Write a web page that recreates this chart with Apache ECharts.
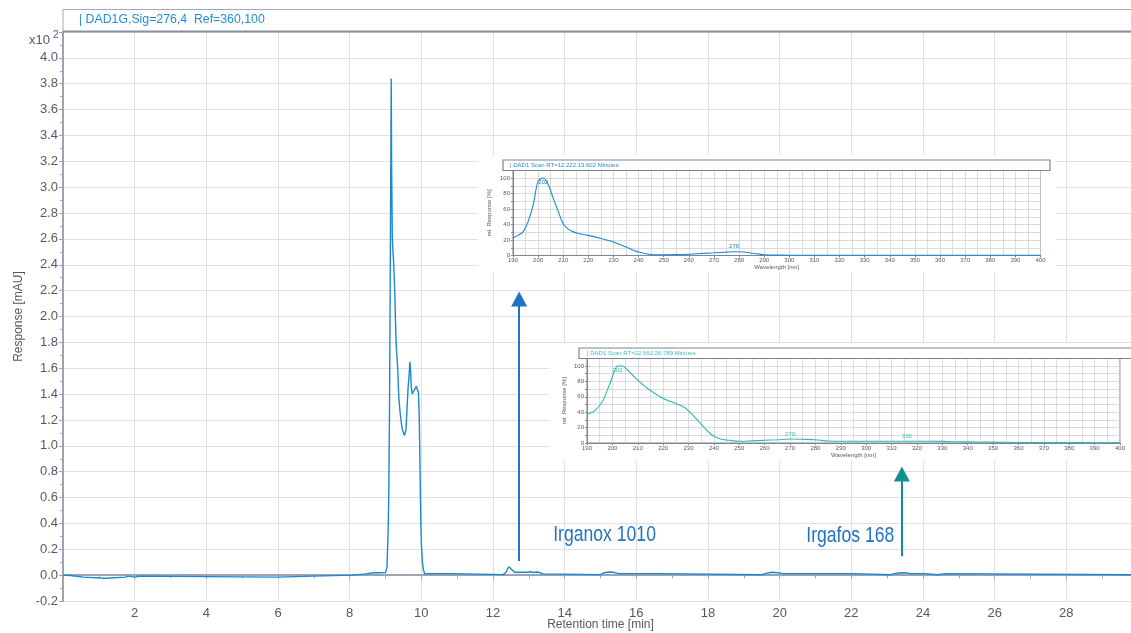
<!DOCTYPE html>
<html>
<head>
<meta charset="utf-8">
<script src="https://cdn.jsdelivr.net/npm/echarts@6/dist/echarts.min.js"></script>
<style>
html, body { margin: 0; padding: 0; background: #fff; }
#chart { width: 1131px; height: 633px; }
</style>
</head>
<body>
<div id="chart"></div>
<script>
// Chromatogram, DAD1G signal: retention time [min] vs response [x10^2 mAU]
const traceTime = [
  0, 0.2, 0.22, 0.58, 0.6, 1.18, 1.2, 1.74, 1.76, 1.8, 1.83, 2.03, 2.06, 2.1, 2.13,
  5.98, 6.0, 6.98, 7.0, 8.08, 8.1, 8.45, 8.48, 8.6, 8.63, 9.0,
  9.04, 9.07, 9.09, 9.11, 9.13, 9.15, 9.16, 9.17, 9.19, 9.23, 9.26, 9.28, 9.3, 9.34,
  9.37, 9.41, 9.46, 9.5, 9.53, 9.57, 9.6, 9.63, 9.66, 9.68, 9.7, 9.72, 9.75, 9.78,
  9.82, 9.86, 9.89, 9.92, 9.94, 9.96, 9.98, 10.0, 10.03, 10.06, 10.09,
  10.9, 10.92, 12.28, 12.36, 12.44, 12.5, 12.6, 12.95, 13.05, 13.12, 13.22, 13.3, 13.4, 13.45,
  15.0, 15.1, 15.25, 15.4, 15.5, 16.66, 16.7, 19.5, 19.65, 19.8, 19.95, 20.1,
  22.0, 22.05, 23.1, 23.2, 23.4, 23.55, 23.65, 24.05, 24.1, 24.4, 24.45, 24.62, 24.66, 30
];
const traceResp = [
  0.0, -0.003, -0.015, -0.015, -0.024, -0.024, -0.015, -0.015, -0.006, -0.008, -0.015, -0.015, -0.006, -0.008, -0.015,
  -0.015, -0.008, -0.008, 0.0, 0.0, 0.01, 0.01, 0.016, 0.016, 0.02, 0.02,
  0.06, 0.3, 0.6, 1.2, 2.2, 3.3, 3.84, 3.2, 2.6, 2.4, 2.18, 1.95, 1.77, 1.6,
  1.38, 1.25, 1.14, 1.1, 1.08, 1.12, 1.28, 1.45, 1.55, 1.65, 1.58, 1.45, 1.4, 1.42,
  1.43, 1.46, 1.45, 1.41, 1.25, 0.9, 0.5, 0.25, 0.1, 0.04, 0.012,
  0.012, 0.004, 0.004, 0.02, 0.065, 0.05, 0.022, 0.022, 0.026, 0.02, 0.024, 0.02, 0.01, 0.004,
  0.004, 0.018, 0.024, 0.02, 0.012, 0.012, 0.003, 0.003, 0.016, 0.022, 0.018, 0.012,
  0.012, 0.003, 0.003, 0.012, 0.018, 0.016, 0.012, 0.012, 0.003, 0.003, 0.012, 0.012, 0.003, 0.003
];

// UV scan, RT 12.222–13.602 min: wavelength [nm] vs rel. response [%]
const scan1Wavelength = [190, 192, 194, 196, 198, 200, 202, 204, 206, 208, 210, 212, 214, 216, 220, 225, 230, 235, 240, 245, 250, 255, 260, 265, 270, 275, 278, 282, 285, 288, 290, 295, 300, 320, 340, 360, 380, 400];
const scan1Response   = [23, 26, 30.5, 43.7, 65, 96, 100, 92, 74, 57, 41, 34, 30.5, 28.5, 26, 22, 17.5, 11, 4.4, 1.3, 0.9, 1.2, 1.7, 2.6, 3.5, 4.4, 4.8, 4.6, 3, 1.8, 0.9, 0.5, 0.4, 0.3, 0.3, 0.3, 0.3, 0.3];
const scan1Peaks = [202, 278];

// UV scan, RT 22.662–26.789 min
const scan2Wavelength = [190, 193, 196, 198, 200, 201, 202, 204, 206, 208, 210, 213, 216, 220, 225, 228, 230, 233, 236, 238, 240, 243, 246, 250, 255, 260, 265, 270, 275, 280, 285, 290, 300, 310, 316, 320, 330, 334, 340, 350, 360, 370, 380, 390, 400];
const scan2Response   = [37.4, 41.7, 53.5, 68.7, 86, 94.8, 100, 100, 94.8, 88, 81.7, 73, 66, 57.8, 51.3, 47, 41.7, 31.7, 20.9, 14, 8.7, 4.8, 3.5, 2.2, 2.8, 3.5, 4.2, 5.2, 4.8, 4.3, 2.6, 2.2, 2.2, 2.2, 2.2, 2.2, 2.1, 1.6, 1.4, 1.2, 0.7, 0.5, 0.5, 0.4, 0.3];
const scan2Peaks = [202, 270, 316];

// Compound markers: arrow from/to response, label anchor
const compoundNames = ['Irganox 1010', 'Irgafos 168'];
const arrowTime = [12.73, 23.41];
const arrowFrom = [0.11, 0.147];
const arrowTo   = [2.136, 0.783];
const compoundLabelTime = [13.68, 23.2];
const compoundLabelResp = [0.31, 0.30];

const FONT = "'Liberation Sans', Arial, sans-serif";
const AXIS = '#9ea3b4';
const TEXT = '#55595f';
const SPLIT = '#e0e0e0';
const BLUE = '#1b88d2';
const TEAL = '#2cb9b1';
const ARROW_BLUE = '#1f74c4';
const ARROW_TEAL = '#12908c';

const chart = echarts.init(document.getElementById('chart'), null, { renderer: 'canvas' });

function zip(xs, ys) { return xs.map((x, i) => [x, ys[i]]); }

// Wavelength labels at spectral maxima
function peakMarks(wl, resp, peaks, color) {
  const top = Math.max.apply(null, resp);
  return {
    silent: true, symbol: 'circle', symbolSize: 0,
    data: peaks.map(w => {
      const r = resp[wl.indexOf(w)];
      const isMax = r === top;
      return {
        coord: [w, r], value: w,
        label: {
          show: true, formatter: String(w), position: isMax ? 'bottom' : 'top',
          distance: isMax ? 1 : 2, fontSize: 6, fontFamily: FONT, color
        }
      };
    })
  };
}

function insetX(gridIndex) {
  return {
    type: 'value', gridIndex, min: 190, max: 400, interval: 10, z: 4,
    name: 'Wavelength [nm]', nameLocation: 'middle', nameGap: 8,
    nameTextStyle: { fontSize: 6, color: TEXT, fontFamily: FONT },
    axisLine: { show: true, lineStyle: { color: '#7e8396', width: 1 } },
    axisTick: { show: true, length: 2, lineStyle: { color: '#7e8396' } },
    axisLabel: { fontSize: 6, color: TEXT, margin: 2, fontFamily: FONT },
    splitLine: { show: true, lineStyle: { color: '#d2d2d2', width: 0.8 } },
    minorTick: { show: false, splitNumber: 2 },
    minorSplitLine: { show: true, lineStyle: { color: '#d2d2d2', width: 0.8 } }
  };
}
function insetY(gridIndex, gap) {
  return {
    type: 'value', gridIndex, min: 0, max: 110, interval: 10, z: 4,
    name: 'rel. Response [%]', nameLocation: 'middle', nameGap: gap,
    nameTextStyle: { fontSize: 6, color: TEXT, fontFamily: FONT },
    axisLine: { show: true, lineStyle: { color: '#7e8396', width: 1 } },
    axisTick: { show: true, length: 2, lineStyle: { color: '#7e8396' } },
    axisLabel: {
      fontSize: 6, color: TEXT, margin: 3, fontFamily: FONT, showMaxLabel: false,
      formatter: v => (v % 20 === 0 ? String(v) : '')
    },
    splitLine: { show: true, lineStyle: { color: '#d2d2d2', width: 0.8 } }
  };
}

const option = {
  animation: false,
  backgroundColor: '#fff',
  grid: [
    { left: 63, top: 32, right: -7, bottom: 32, outerBoundsMode: 'none' },
    { left: 513, top: 170.3, width: 527.5, height: 85.2, show: true, backgroundColor: '#fff', borderColor: '#7e8396', borderWidth: 1, z: 3, outerBoundsMode: 'none' },
    { left: 587, top: 358.3, width: 533, height: 84.7, show: true, backgroundColor: '#fff', borderColor: '#7e8396', borderWidth: 1, z: 3, outerBoundsMode: 'none' }
  ],
  xAxis: [
    {
      type: 'value', gridIndex: 0, min: 0, max: 30, interval: 2,
      name: 'Retention time [min]', nameLocation: 'middle', nameGap: 24, nameMoveOverlap: false,
      nameTextStyle: { fontSize: 12, color: TEXT, fontFamily: FONT, verticalAlign: 'middle', padding: 0 },
      axisLine: { show: true, lineStyle: { color: AXIS, width: 2 } },
      axisTick: { show: true, length: 4, lineStyle: { color: AXIS } },
      minorTick: { show: true, splitNumber: 2, length: 3, lineStyle: { color: AXIS } },
      axisLabel: { fontSize: 13, color: TEXT, margin: 6, fontFamily: FONT, showMinLabel: false, showMaxLabel: false },
      splitLine: { show: true, lineStyle: { color: SPLIT, width: 1 } }
    },
    insetX(1),
    insetX(2)
  ],
  yAxis: [
    {
      type: 'value', gridIndex: 0, min: -0.2, max: 4.2, interval: 0.2,
      name: 'Response [mAU]', nameLocation: 'middle', nameGap: 38, nameMoveOverlap: false,
      nameTextStyle: { fontSize: 12, color: TEXT, fontFamily: FONT },
      axisLine: { show: true, lineStyle: { color: AXIS, width: 2 } },
      axisTick: { show: true, length: 4, lineStyle: { color: AXIS } },
      minorTick: { show: true, splitNumber: 2, length: 3, lineStyle: { color: AXIS } },
      axisLabel: { fontSize: 13, color: TEXT, margin: 5, fontFamily: FONT, showMaxLabel: false, formatter: v => v.toFixed(1) },
      splitLine: { show: true, lineStyle: { color: SPLIT, width: 1 } }
    },
    insetY(1, 21),
    insetY(2, 20)
  ],
  series: [
    {
      name: 'DAD1G', type: 'line', xAxisIndex: 0, yAxisIndex: 0, z: 2,
      data: zip(traceTime, traceResp), showSymbol: false, symbol: 'none',
      lineStyle: { color: BLUE, width: 1.4 },
      markLine: {
        silent: true, symbol: ['none', 'triangle'], symbolSize: [16, 15],
        label: { show: false },
        data: arrowTime.map((t, i) => [
          { coord: [t, arrowFrom[i]], lineStyle: { color: i === 0 ? ARROW_BLUE : ARROW_TEAL, width: 2, type: 'solid' }, itemStyle: { color: i === 0 ? ARROW_BLUE : ARROW_TEAL } },
          { coord: [t, arrowTo[i]] }
        ])
      }
    },
    {
      name: 'scan1', type: 'line', xAxisIndex: 1, yAxisIndex: 1, z: 5,
      data: zip(scan1Wavelength, scan1Response),
      showSymbol: false, symbol: 'none', smooth: 0.3,
      lineStyle: { color: BLUE, width: 1.1 }, itemStyle: { color: BLUE },
      markPoint: peakMarks(scan1Wavelength, scan1Response, scan1Peaks, '#2a8ad6')
    },
    {
      name: 'scan2', type: 'line', xAxisIndex: 2, yAxisIndex: 2, z: 5,
      data: zip(scan2Wavelength, scan2Response),
      showSymbol: false, symbol: 'none', smooth: 0.3,
      lineStyle: { color: TEAL, width: 1.1 }, itemStyle: { color: TEAL },
      markPoint: peakMarks(scan2Wavelength, scan2Response, scan2Peaks, '#3cc0c0')
    }
  ],
  graphic: [
    // main signal header
    { type: 'rect', z: 5, shape: { x: 63, y: 9.5, width: 1080, height: 22 }, style: { fill: '#fff', stroke: '#a3a8b8', lineWidth: 1 } },
    { type: 'line', z: 6, shape: { x1: 63, y1: 31.5, x2: 1131, y2: 31.5 }, style: { stroke: '#8a90a3', lineWidth: 2 } },
    { type: 'text', z: 6, x: 79, y: 19.5, style: { text: '| DAD1G,Sig=276,4  Ref=360,100', fill: '#1f8ed8', font: '12.3px ' + FONT, verticalAlign: 'middle' } },
    // exponent of the response axis
    { type: 'text', z: 6, x: 50, y: 40, style: { text: 'x10', fill: TEXT, font: '13px ' + FONT, align: 'right', verticalAlign: 'middle' } },
    { type: 'text', z: 6, x: 53, y: 35, style: { text: '2', fill: TEXT, font: '10px ' + FONT, verticalAlign: 'middle' } },
    // inset 1 backdrop and header
    { type: 'rect', z: 1, shape: { x: 478, y: 155, width: 578, height: 117 }, style: { fill: '#fff' } },
    { type: 'rect', z: 6, shape: { x: 503, y: 160, width: 547, height: 10.5 }, style: { fill: '#fff', stroke: '#7e8396', lineWidth: 1.2 } },
    { type: 'text', z: 7, x: 510, y: 165.5, style: { text: '| DAD1 Scan RT=12.222:13.602 Minutes', fill: '#2a8ad6', font: '6px ' + FONT, verticalAlign: 'middle' } },
    // inset 2 backdrop and header
    { type: 'rect', z: 1, shape: { x: 549, y: 343, width: 590, height: 118 }, style: { fill: '#fff' } },
    { type: 'rect', z: 6, shape: { x: 579, y: 348, width: 554, height: 10.5 }, style: { fill: '#fff', stroke: '#7e8396', lineWidth: 1.2 } },
    { type: 'text', z: 7, x: 587, y: 353.5, style: { text: '| DAD1 Scan RT=22.662:26.789 Minutes', fill: '#3cc0c0', font: '6px ' + FONT, verticalAlign: 'middle' } }
  ]
};

chart.setOption(option);

// Compound names, anchored in data space and set in a condensed face
const nameGraphics = compoundNames.map((n, i) => {
  const p = chart.convertToPixel({ gridIndex: 0 }, [compoundLabelTime[i], compoundLabelResp[i]]);
  return {
    type: 'text', z: 8, x: p[0], y: p[1], scaleX: 0.8,
    style: {
      text: n, fill: ARROW_BLUE, font: '22px ' + FONT,
      align: i === 0 ? 'left' : 'right', verticalAlign: 'middle'
    }
  };
});
chart.setOption({ graphic: option.graphic.concat(nameGraphics) });
</script>
</body>
</html>
